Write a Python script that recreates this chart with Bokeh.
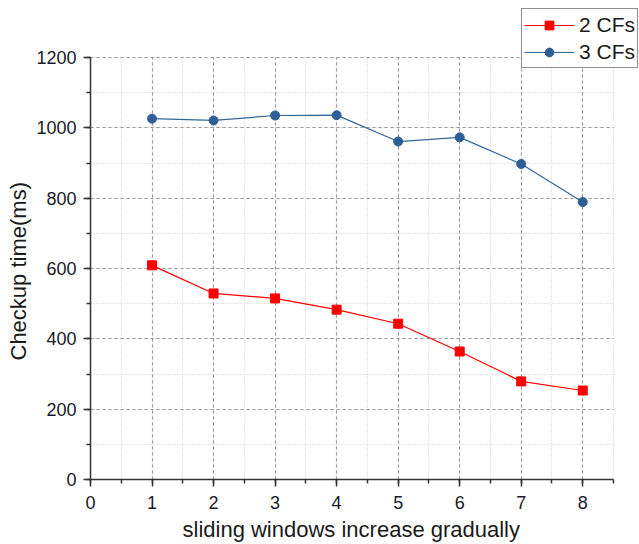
from bokeh.plotting import figure
from bokeh.models import SingleIntervalTicker, Legend, LegendItem, Range1d, Title
from bokeh.embed import file_html
from bokeh.resources import INLINE

x = [1, 2, 3, 4, 5, 6, 7, 8]
cf2 = [609, 529, 515, 483, 443, 364, 279, 253]
cf3 = [1026, 1021, 1035, 1036, 961, 973, 897, 789]
series_names = ["2 CFs", "3 CFs"]
x_title = "sliding windows increase gradually"
y_title = "Checkup time(ms)"
x_axis_end = 8.5
y_axis_end = 1200

FONT = "Liberation Sans"

# frame extends beyond the axes so the legend (outside the axes box) is not clipped
p = figure(width=639, height=544, output_backend="svg", toolbar_location=None,
           x_range=Range1d(0, x_axis_end * 549 / 523), y_range=Range1d(0, y_axis_end * 471 / 422),
           min_border_left=90, min_border_right=0, min_border_top=8, min_border_bottom=65)
p.outline_line_color = None
p.background_fill_color = "white"
p.border_fill_color = "white"

p.xaxis.ticker = SingleIntervalTicker(interval=1, num_minor_ticks=2)
p.yaxis.ticker = SingleIntervalTicker(interval=200, num_minor_ticks=2)
p.xaxis.bounds = (0, x_axis_end)
p.yaxis.bounds = (0, y_axis_end)

for ax in (p.xaxis, p.yaxis):
    ax.axis_line_color = "#333333"
    ax.axis_line_width = 1.5
    ax.major_tick_line_color = "#333333"
    ax.major_tick_line_width = 1.5
    ax.minor_tick_line_color = "#333333"
    ax.minor_tick_line_width = 1.5
    ax.major_tick_out = 7
    ax.major_tick_in = 0
    ax.minor_tick_out = 4
    ax.minor_tick_in = 0
    ax.major_label_text_font = FONT
    ax.major_label_text_font_size = "18px"
    ax.major_label_text_color = "#1a1a2a"

p.xaxis.major_label_standoff = 9
p.yaxis.major_label_standoff = 7

# axis titles positioned relative to the axes box (not the extended frame)
xt = Title(text=x_title, align="left", offset=92, standoff=6,
           text_font=FONT, text_font_size="22px", text_font_style="normal", text_color="#1a1a1a")
yt = Title(text=y_title, align="left", offset=119, standoff=6,
           text_font=FONT, text_font_size="22px", text_font_style="normal", text_color="#1a1a1a")
p.add_layout(xt, "below")
p.add_layout(yt, "left")

p.xgrid.bounds = (0, x_axis_end)
p.xgrid.cross_bounds = (0, y_axis_end)
p.ygrid.bounds = (0, y_axis_end)
p.ygrid.cross_bounds = (0, x_axis_end)
for g in (p.xgrid, p.ygrid):
    g.grid_line_color = "#999999"
    g.grid_line_dash = "3 3"
    g.grid_line_width = 1.2
    g.minor_grid_line_color = "#cccccc"
    g.minor_grid_line_dash = "1 2"
    g.minor_grid_line_width = 1

l1 = p.line(x, cf2, line_color="#ff0000", line_width=1.2)
m1 = p.scatter(x, cf2, marker="square", size=9, fill_color="#ff0000", line_color="#ff0000")
l2 = p.line(x, cf3, line_color="#336699", line_width=1.2)
m2 = p.scatter(x, cf3, marker="circle", size=9, fill_color="#2f5f97", line_color="#2f5f97")

legend = Legend(items=[LegendItem(label=series_names[0], renderers=[l1, m1]),
                       LegendItem(label=series_names[1], renderers=[l2, m2])],
                location=(431, 411))
legend.border_line_color = "#222222"
legend.border_line_width = 1.5
legend.label_text_font = FONT
legend.label_text_font_size = "21px"
legend.label_text_color = "#1a1a1a"
legend.label_standoff = 5
legend.glyph_width = 50
legend.glyph_height = 22
legend.label_height = 27
legend.spacing = 0
legend.padding = 2
legend.margin = 0
legend.background_fill_alpha = 1
p.add_layout(legend, "center")

open("out.html", "w").write(file_html(p, INLINE))
